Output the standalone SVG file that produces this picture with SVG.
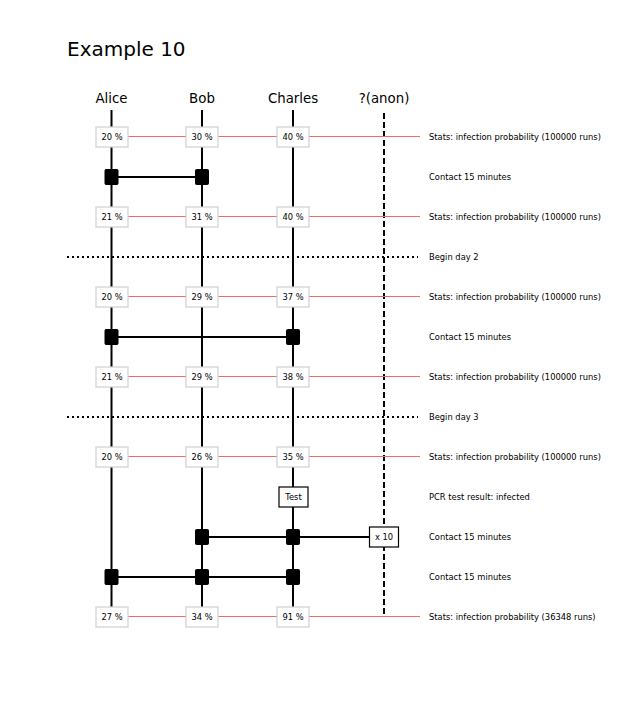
<svg xmlns="http://www.w3.org/2000/svg" width="619" height="707" viewBox="0 0 619 707">
<style>
text{font-family:"DejaVu Sans",sans-serif;fill:#000}
.title{font-size:20px}
.name{font-size:13.33px;text-anchor:middle}
.small{font-size:8.33px}
.mid{text-anchor:middle}
.life{stroke:#000;stroke-width:2;fill:none}
.anon{stroke:#000;stroke-width:2;stroke-dasharray:6,3;fill:none}
.stat{stroke:#f06a6a;stroke-width:1;fill:none}
.day{stroke:#000;stroke-width:2;stroke-dasharray:2,3;fill:none}
.contact{stroke:#000;stroke-width:2;fill:none}
.sbox{fill:#fff;stroke:#d0d0d0;stroke-width:1.2}
.bbox{fill:#fff;stroke:#000;stroke-width:1.2}
.sq{fill:#000;stroke:#000;stroke-width:1}
</style>
<text class="title" x="67" y="56">Example 10</text>
<g id="lifelines">
<g id="alice"><text class="name" x="111.5" y="103">Alice</text><line class="life" x1="111.5" y1="110" x2="111.5" y2="617"/></g>
<g id="bob"><text class="name" x="202" y="103">Bob</text><line class="life" x1="202" y1="110" x2="202" y2="617"/></g>
<g id="charles"><text class="name" x="293" y="103">Charles</text><line class="life" x1="293" y1="110" x2="293" y2="617"/></g>
<g id="anon"><text class="name" x="384" y="103">?(anon)</text><line class="anon" x1="384" y1="113" x2="384" y2="617"/></g>
</g>
<g id="connectors">
<line class="stat" x1="111.5" y1="136.5" x2="420" y2="136.5"/>
<line class="stat" x1="111.5" y1="216.5" x2="420" y2="216.5"/>
<line class="stat" x1="111.5" y1="296.5" x2="420" y2="296.5"/>
<line class="stat" x1="111.5" y1="376.5" x2="420" y2="376.5"/>
<line class="stat" x1="111.5" y1="456.5" x2="420" y2="456.5"/>
<line class="stat" x1="111.5" y1="616.5" x2="420" y2="616.5"/>
<line class="day" x1="67" y1="257" x2="418" y2="257"/>
<line class="day" x1="67" y1="417" x2="418" y2="417"/>
<line class="contact" x1="111.5" y1="177" x2="202" y2="177"/>
<line class="contact" x1="111.5" y1="337" x2="293" y2="337"/>
<line class="contact" x1="202" y1="537" x2="384" y2="537"/>
<line class="contact" x1="111.5" y1="577" x2="293" y2="577"/>
</g>
<g id="stats-row1">
<rect class="sbox" x="96" y="127" width="32" height="20"/><text class="small mid" x="112" y="140">20 %</text>
<rect class="sbox" x="186" y="127" width="32" height="20"/><text class="small mid" x="202" y="140">30 %</text>
<rect class="sbox" x="277" y="127" width="32" height="20"/><text class="small mid" x="293" y="140">40 %</text>
</g>
<g id="contact-row2">
<rect class="sq" x="105" y="169.5" width="13" height="15" rx="1"/>
<rect class="sq" x="195.5" y="169.5" width="13" height="15" rx="1"/>
</g>
<g id="stats-row3">
<rect class="sbox" x="96" y="207" width="32" height="20"/><text class="small mid" x="112" y="220">21 %</text>
<rect class="sbox" x="186" y="207" width="32" height="20"/><text class="small mid" x="202" y="220">31 %</text>
<rect class="sbox" x="277" y="207" width="32" height="20"/><text class="small mid" x="293" y="220">40 %</text>
</g>
<g id="stats-row5">
<rect class="sbox" x="96" y="287" width="32" height="20"/><text class="small mid" x="112" y="300">20 %</text>
<rect class="sbox" x="186" y="287" width="32" height="20"/><text class="small mid" x="202" y="300">29 %</text>
<rect class="sbox" x="277" y="287" width="32" height="20"/><text class="small mid" x="293" y="300">37 %</text>
</g>
<g id="contact-row6">
<rect class="sq" x="105" y="329.5" width="13" height="15" rx="1"/>
<rect class="sq" x="286.5" y="329.5" width="13" height="15" rx="1"/>
</g>
<g id="stats-row7">
<rect class="sbox" x="96" y="367" width="32" height="20"/><text class="small mid" x="112" y="380">21 %</text>
<rect class="sbox" x="186" y="367" width="32" height="20"/><text class="small mid" x="202" y="380">29 %</text>
<rect class="sbox" x="277" y="367" width="32" height="20"/><text class="small mid" x="293" y="380">38 %</text>
</g>
<g id="stats-row9">
<rect class="sbox" x="96" y="447" width="32" height="20"/><text class="small mid" x="112" y="460">20 %</text>
<rect class="sbox" x="186" y="447" width="32" height="20"/><text class="small mid" x="202" y="460">26 %</text>
<rect class="sbox" x="277" y="447" width="32" height="20"/><text class="small mid" x="293" y="460">35 %</text>
</g>
<g id="test-row10">
<rect class="bbox" x="279" y="487" width="29" height="20"/><text class="small mid" x="293.5" y="500">Test</text>
</g>
<g id="contact-row11">
<rect class="sq" x="195.5" y="529.5" width="13" height="15" rx="1"/>
<rect class="sq" x="286.5" y="529.5" width="13" height="15" rx="1"/>
<rect class="bbox" x="369.5" y="527" width="29" height="20"/><text class="small mid" x="384" y="540">x 10</text>
</g>
<g id="contact-row12">
<rect class="sq" x="105" y="569.5" width="13" height="15" rx="1"/>
<rect class="sq" x="195.5" y="569.5" width="13" height="15" rx="1"/>
<rect class="sq" x="286.5" y="569.5" width="13" height="15" rx="1"/>
</g>
<g id="stats-row13">
<rect class="sbox" x="96" y="607" width="32" height="20"/><text class="small mid" x="112" y="620">27 %</text>
<rect class="sbox" x="186" y="607" width="32" height="20"/><text class="small mid" x="202" y="620">34 %</text>
<rect class="sbox" x="277" y="607" width="32" height="20"/><text class="small mid" x="293" y="620">91 %</text>
</g>
<g id="labels">
<text class="small" x="429" y="140">Stats: infection probability (100000 runs)</text>
<text class="small" x="429" y="180">Contact 15 minutes</text>
<text class="small" x="429" y="220">Stats: infection probability (100000 runs)</text>
<text class="small" x="429" y="260">Begin day 2</text>
<text class="small" x="429" y="300">Stats: infection probability (100000 runs)</text>
<text class="small" x="429" y="340">Contact 15 minutes</text>
<text class="small" x="429" y="380">Stats: infection probability (100000 runs)</text>
<text class="small" x="429" y="420">Begin day 3</text>
<text class="small" x="429" y="460">Stats: infection probability (100000 runs)</text>
<text class="small" x="429" y="500">PCR test result: infected</text>
<text class="small" x="429" y="540">Contact 15 minutes</text>
<text class="small" x="429" y="580">Contact 15 minutes</text>
<text class="small" x="429" y="620">Stats: infection probability (36348 runs)</text>
</g>
</svg>
